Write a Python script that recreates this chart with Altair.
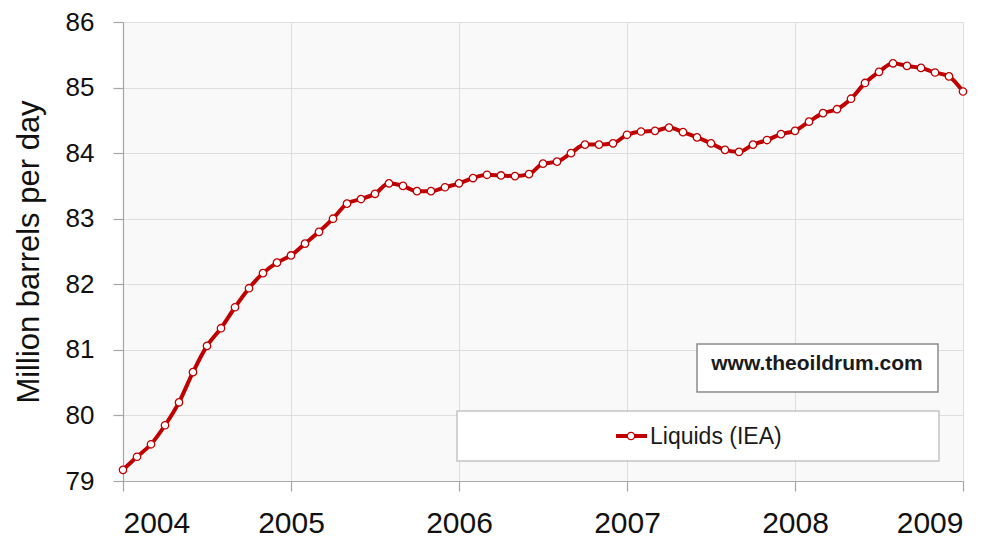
import altair as alt
import pandas as pd

# Monthly values, million barrels per day (Jan..Dec)
v2004 = [79.17, 79.37, 79.56, 79.85, 80.20, 80.66, 81.06, 81.33, 81.65, 81.94, 82.17, 82.33]
v2005 = [82.44, 82.62, 82.80, 83.00, 83.23, 83.30, 83.38, 83.54, 83.50, 83.42, 83.42, 83.48]
v2006 = [83.54, 83.62, 83.67, 83.66, 83.65, 83.68, 83.84, 83.87, 84.00, 84.13, 84.13, 84.15]
v2007 = [84.28, 84.33, 84.34, 84.39, 84.32, 84.24, 84.15, 84.05, 84.02, 84.13, 84.20, 84.29]
v2008 = [84.34, 84.48, 84.61, 84.67, 84.83, 85.07, 85.24, 85.37, 85.33, 85.30, 85.23, 85.17]
v2009 = [84.94]

years = [2004, 2005, 2006, 2007, 2008, 2009]
series = [v2004, v2005, v2006, v2007, v2008, v2009]
x_ticks = [2004, 2005, 2006, 2007, 2008, 2009]
y_ticks = [79, 80, 81, 82, 83, 84, 85, 86]
series_name = "Liquids (IEA)"
watermark = "www.theoildrum.com"
y_title = "Million barrels per day"

rows = []
for yr, vals in zip(years, series):
    for m, v in enumerate(vals):
        rows.append({"t": yr + m / 12.0, "v": v})
df = pd.DataFrame(rows)

RED = "#c00000"
FONT = "Liberation Sans"

x = alt.X("t:Q", scale=alt.Scale(domain=[2004, 2009], nice=False, zero=False),
          axis=alt.Axis(values=x_ticks, format="d", title=None, labelFontSize=30,
                        labelPadding=17, tickSize=10, labelFont=FONT, labelColor="#111111"))
y = alt.Y("v:Q", scale=alt.Scale(domain=[79, 86], nice=False, zero=False),
          axis=alt.Axis(values=y_ticks, title=y_title, titleFontSize=31, titleFont=FONT,
                        titleFontWeight="normal", titleColor="#111111", titlePadding=20,
                        labelFontSize=26, labelPadding=19, tickSize=10, labelFont=FONT,
                        labelColor="#111111"))

base = alt.Chart(df)
line = base.mark_line(color=RED, strokeWidth=4, interpolate="monotone").encode(x=x, y=y)
pts = base.mark_point(shape="circle", filled=True, fill="white", stroke=RED,
                      strokeWidth=1.3, size=55, opacity=1).encode(x=x, y=y)

one = alt.Chart(pd.DataFrame({"a": [0]}))
box1 = one.mark_rect(fill="white", stroke="#8c8c8c", strokeWidth=1.5).encode(
    x=alt.value(574), x2=alt.value(815), y=alt.value(322), y2=alt.value(370))
txt1 = one.mark_text(text=watermark, font=FONT, fontSize=21, fontWeight="bold",
                     color="#1a1a1a", align="center", baseline="middle").encode(
    x=alt.value(694), y=alt.value(342))
box2 = one.mark_rect(fill="white", stroke="#c4c4c4", strokeWidth=1.5).encode(
    x=alt.value(334), x2=alt.value(816), y=alt.value(389), y2=alt.value(439))
leg_line = one.mark_rule(color=RED, strokeWidth=4).encode(
    x=alt.value(493), x2=alt.value(524), y=alt.value(414))
leg_pt = one.mark_point(shape="circle", filled=True, fill="white", stroke=RED,
                        strokeWidth=1.3, size=55, opacity=1).encode(
    x=alt.value(508), y=alt.value(414))
txt2 = one.mark_text(text=series_name, font=FONT, fontSize=23, color="#1a1a1a",
                     align="left", baseline="middle").encode(
    x=alt.value(527), y=alt.value(415))

chart = alt.layer(line, pts, box1, txt1, box2, leg_line, leg_pt, txt2).properties(
    width=840, height=459,
    autosize=alt.AutoSizeParams(type="none"),
    padding={"left": 115, "top": 14, "right": 25, "bottom": 64},
    background="white",
).configure_view(fill="#f9f9f9", strokeWidth=0).configure_axis(
    gridColor="#dedede", gridWidth=1, domainColor="#a6a6a6", domainWidth=1.2,
    tickColor="#a6a6a6", tickWidth=1.2,
)

chart.save("out.html", embed_options={"renderer": "svg", "actions": False})
